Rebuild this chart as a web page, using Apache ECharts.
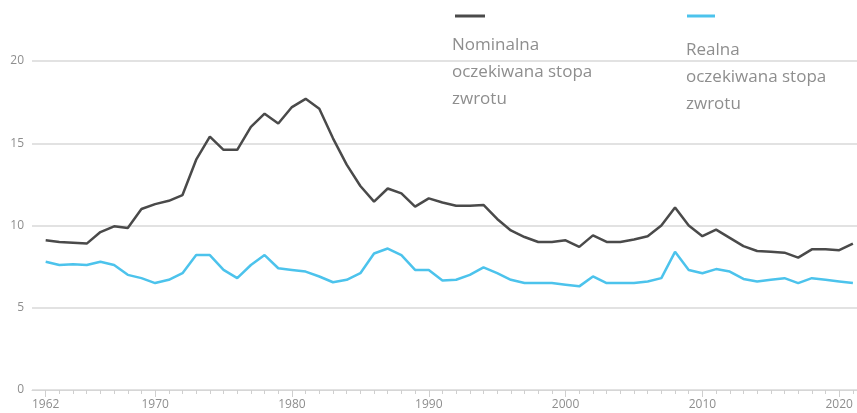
<!DOCTYPE html>
<html>
<head>
<meta charset="utf-8">
<script src="https://cdn.jsdelivr.net/npm/echarts@6/dist/echarts.min.js"></script>
<style>
html,body{margin:0;padding:0;background:#fff;}
#chart{width:857px;height:413px;}
</style>
</head>
<body>
<div id="chart"></div>
<script>
const years = [];
for (let y = 1962; y <= 2021; y++) years.push(y);

const nominal = [
  9.1, 9.0, 8.95, 8.9, 9.6, 9.95, 9.85, 11.0, 11.3, 11.5,
  11.85, 14.0, 15.4, 14.6, 14.6, 16.0, 16.8, 16.2, 17.2, 17.7,
  17.1, 15.3, 13.7, 12.4, 11.45, 12.25, 11.95, 11.15, 11.65, 11.4,
  11.2, 11.2, 11.25, 10.4, 9.7, 9.3, 9.0, 9.0, 9.1, 8.7,
  9.4, 9.0, 9.0, 9.15, 9.35, 10.0, 11.1, 10.0, 9.35, 9.75,
  9.25, 8.75, 8.45, 8.4, 8.35, 8.05, 8.55, 8.55, 8.5, 8.9
];
const real = [
  7.8, 7.6, 7.65, 7.6, 7.8, 7.6, 7.0, 6.8, 6.5, 6.7,
  7.1, 8.2, 8.2, 7.3, 6.8, 7.6, 8.2, 7.4, 7.3, 7.2,
  6.9, 6.55, 6.7, 7.1, 8.3, 8.6, 8.2, 7.3, 7.3, 6.65,
  6.7, 7.0, 7.45, 7.1, 6.7, 6.5, 6.5, 6.5, 6.4, 6.3,
  6.9, 6.5, 6.5, 6.5, 6.6, 6.8, 8.4, 7.3, 7.1, 7.35,
  7.2, 6.75, 6.6, 6.7, 6.8, 6.5, 6.8, 6.7, 6.6, 6.5
];
const xLabelYears = [1962, 1970, 1980, 1990, 2000, 2010, 2020];
const yTicks = [0, 5, 10, 15, 20];
const seriesNames = ['Nominalna oczekiwana stopa zwrotu', 'Realna oczekiwana stopa zwrotu'];
const legendLines = [['Nominalna', 'oczekiwana stopa', 'zwrotu'], ['Realna', 'oczekiwana stopa', 'zwrotu']];

const colNom = '#4a4a4a';
const colReal = '#4cc3ec';
const textCol = '#8e8e8e';

const chart = echarts.init(document.getElementById('chart'), null, {renderer: 'canvas'});
const xMin = 1961, xMax = 2021.3;

chart.setOption({
  animation: false,
  backgroundColor: '#fff',
  grid: {left: 32, right: 0, top: 61, bottom: 23, containLabel: false},
  xAxis: [{
    type: 'value', min: xMin, max: xMax,
    splitLine: {show: false},
    axisLine: {show: true, lineStyle: {color: '#d6d6d6', width: 1}},
    axisTick: {show: true, customValues: years, length: 4, lineStyle: {color: '#cfcfcf'}},
    axisLabel: {customValues: xLabelYears, color: textCol, fontSize: 12, margin: 9,
      fontFamily: 'Open Sans', formatter: v => String(v)}
  }, {
    type: 'value', min: xMin, max: xMax, position: 'bottom',
    splitLine: {show: false},
    axisLine: {show: false},
    axisTick: {show: true, customValues: xLabelYears, length: 7, lineStyle: {color: '#cfcfcf'}},
    axisLabel: {show: false}
  }],
  yAxis: {
    type: 'value', min: 0, max: 20, interval: 5,
    axisLine: {show: false}, axisTick: {show: false},
    splitLine: {show: true, lineStyle: {color: '#e2e2e2', width: 2}},
    axisLabel: {color: textCol, fontSize: 12, margin: 8, fontFamily: 'Open Sans'}
  },
  series: [{
    name: seriesNames[0], type: 'line', xAxisIndex: 0,
    data: years.map((y, i) => [y, nominal[i]]),
    showSymbol: false, lineStyle: {color: colNom, width: 2.5}, itemStyle: {color: colNom}
  }, {
    name: seriesNames[1], type: 'line', xAxisIndex: 0,
    data: years.map((y, i) => [y, real[i]]),
    showSymbol: false, lineStyle: {color: colReal, width: 2.5}, itemStyle: {color: colReal}
  }],
  graphic: [
    {type: 'line', shape: {x1: 455, y1: 16, x2: 485, y2: 16}, style: {stroke: colNom, lineWidth: 3}},
    {type: 'line', shape: {x1: 687, y1: 16, x2: 715, y2: 16}, style: {stroke: colReal, lineWidth: 3}},
    {type: 'text', left: 452, top: 32, style: {text: legendLines[0].join('\n'), fill: textCol,
      font: '17px "Open Sans"', lineHeight: 27}},
    {type: 'text', left: 686, top: 37, style: {text: legendLines[1].join('\n'), fill: textCol,
      font: '17px "Open Sans"', lineHeight: 27}}
  ]
});
</script>
</body>
</html>
